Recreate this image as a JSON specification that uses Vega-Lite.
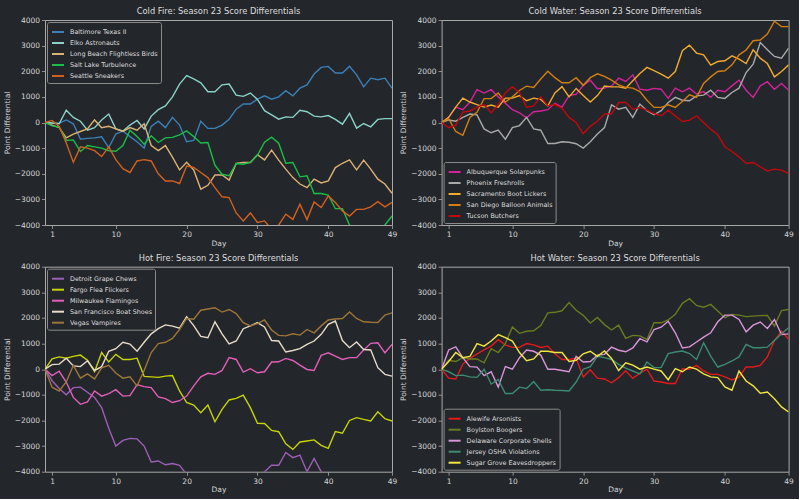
{
"$schema": "https://vega.github.io/schema/vega-lite/v6.json",
"background": "#23262b",
"padding": {"left": 2, "top": 6, "right": 5, "bottom": 5},
"config": {
  "font": "DejaVu Sans",
  "view": {"stroke": "#a8a8a8", "strokeWidth": 1},
  "axis": {"domain": false, "grid": false, "tickColor": "#a8a8a8", "tickSize": 3.5, "tickWidth": 0.8, "labelColor": "#d6d6d6", "labelFontSize": 7.5, "titleColor": "#d6d6d6", "titleFontSize": 7.5, "titleFontWeight": "normal", "labelPadding": 2, "labelFlush": false, "labelOverlap": false, "titlePadding": 3},
  "axisX": {"titlePadding": 1},
  "title": {"fontSize": 8.3, "fontWeight": "normal", "color": "#dedede", "offset": 0.5, "frame": "group", "font": "DejaVu Sans"},
  "legend": {"fillColor": "#23262b", "strokeColor": "#8a8a8a", "cornerRadius": 2, "padding": 3, "offset": 2, "labelColor": "#dddddd", "labelFontSize": 6.4, "symbolType": "stroke", "symbolStrokeWidth": 2, "symbolSize": 144, "symbolOffset": 1, "labelOffset": 5, "rowPadding": -2.5, "labelFont": "DejaVu Sans"}
},
"datasets": {
"cf": [
{"team":"Baltimore Texas II","day":0,"diff":0},{"team":"Baltimore Texas II","day":1,"diff":-20},{"team":"Baltimore Texas II","day":2,"diff":-30},{"team":"Baltimore Texas II","day":3,"diff":100},{"team":"Baltimore Texas II","day":4,"diff":-50},{"team":"Baltimore Texas II","day":5,"diff":-650},{"team":"Baltimore Texas II","day":6,"diff":-620},{"team":"Baltimore Texas II","day":7,"diff":-600},{"team":"Baltimore Texas II","day":8,"diff":-560},{"team":"Baltimore Texas II","day":9,"diff":-980},
{"team":"Baltimore Texas II","day":10,"diff":-450},{"team":"Baltimore Texas II","day":11,"diff":-330},{"team":"Baltimore Texas II","day":12,"diff":-550},{"team":"Baltimore Texas II","day":13,"diff":-750},{"team":"Baltimore Texas II","day":14,"diff":-1000},{"team":"Baltimore Texas II","day":15,"diff":-150},{"team":"Baltimore Texas II","day":16,"diff":50},{"team":"Baltimore Texas II","day":17,"diff":-200},{"team":"Baltimore Texas II","day":18,"diff":200},{"team":"Baltimore Texas II","day":19,"diff":-100},
{"team":"Baltimore Texas II","day":20,"diff":-750},{"team":"Baltimore Texas II","day":21,"diff":-700},{"team":"Baltimore Texas II","day":22,"diff":50},{"team":"Baltimore Texas II","day":23,"diff":-230},{"team":"Baltimore Texas II","day":24,"diff":-230},{"team":"Baltimore Texas II","day":25,"diff":-100},{"team":"Baltimore Texas II","day":26,"diff":130},{"team":"Baltimore Texas II","day":27,"diff":520},{"team":"Baltimore Texas II","day":28,"diff":720},{"team":"Baltimore Texas II","day":29,"diff":720},
{"team":"Baltimore Texas II","day":30,"diff":910},{"team":"Baltimore Texas II","day":31,"diff":1040},{"team":"Baltimore Texas II","day":32,"diff":910},{"team":"Baltimore Texas II","day":33,"diff":1000},{"team":"Baltimore Texas II","day":34,"diff":1240},{"team":"Baltimore Texas II","day":35,"diff":1040},{"team":"Baltimore Texas II","day":36,"diff":1340},{"team":"Baltimore Texas II","day":37,"diff":1470},{"team":"Baltimore Texas II","day":38,"diff":1890},{"team":"Baltimore Texas II","day":39,"diff":2150},
{"team":"Baltimore Texas II","day":40,"diff":2190},{"team":"Baltimore Texas II","day":41,"diff":1930},{"team":"Baltimore Texas II","day":42,"diff":1930},{"team":"Baltimore Texas II","day":43,"diff":2190},{"team":"Baltimore Texas II","day":44,"diff":1860},{"team":"Baltimore Texas II","day":45,"diff":1390},{"team":"Baltimore Texas II","day":46,"diff":1730},{"team":"Baltimore Texas II","day":47,"diff":1670},{"team":"Baltimore Texas II","day":48,"diff":1730},{"team":"Baltimore Texas II","day":49,"diff":1340},
{"team":"Elko Astronauts","day":0,"diff":0},{"team":"Elko Astronauts","day":1,"diff":-20},{"team":"Elko Astronauts","day":2,"diff":-50},{"team":"Elko Astronauts","day":3,"diff":480},{"team":"Elko Astronauts","day":4,"diff":200},{"team":"Elko Astronauts","day":5,"diff":50},{"team":"Elko Astronauts","day":6,"diff":-300},{"team":"Elko Astronauts","day":7,"diff":-200},{"team":"Elko Astronauts","day":8,"diff":100},{"team":"Elko Astronauts","day":9,"diff":330},
{"team":"Elko Astronauts","day":10,"diff":-250},{"team":"Elko Astronauts","day":11,"diff":-330},{"team":"Elko Astronauts","day":12,"diff":-100},{"team":"Elko Astronauts","day":13,"diff":80},{"team":"Elko Astronauts","day":14,"diff":-250},{"team":"Elko Astronauts","day":15,"diff":250},{"team":"Elko Astronauts","day":16,"diff":500},{"team":"Elko Astronauts","day":17,"diff":650},{"team":"Elko Astronauts","day":18,"diff":1000},{"team":"Elko Astronauts","day":19,"diff":1500},
{"team":"Elko Astronauts","day":20,"diff":1830},{"team":"Elko Astronauts","day":21,"diff":1700},{"team":"Elko Astronauts","day":22,"diff":1550},{"team":"Elko Astronauts","day":23,"diff":1200},{"team":"Elko Astronauts","day":24,"diff":1200},{"team":"Elko Astronauts","day":25,"diff":1470},{"team":"Elko Astronauts","day":26,"diff":1500},{"team":"Elko Astronauts","day":27,"diff":1070},{"team":"Elko Astronauts","day":28,"diff":1020},{"team":"Elko Astronauts","day":29,"diff":1150},
{"team":"Elko Astronauts","day":30,"diff":900},{"team":"Elko Astronauts","day":31,"diff":460},{"team":"Elko Astronauts","day":32,"diff":300},{"team":"Elko Astronauts","day":33,"diff":130},{"team":"Elko Astronauts","day":34,"diff":220},{"team":"Elko Astronauts","day":35,"diff":200},{"team":"Elko Astronauts","day":36,"diff":480},{"team":"Elko Astronauts","day":37,"diff":420},{"team":"Elko Astronauts","day":38,"diff":250},{"team":"Elko Astronauts","day":39,"diff":220},
{"team":"Elko Astronauts","day":40,"diff":270},{"team":"Elko Astronauts","day":41,"diff":120},{"team":"Elko Astronauts","day":42,"diff":-65},{"team":"Elko Astronauts","day":43,"diff":350},{"team":"Elko Astronauts","day":44,"diff":-220},{"team":"Elko Astronauts","day":45,"diff":-40},{"team":"Elko Astronauts","day":46,"diff":-170},{"team":"Elko Astronauts","day":47,"diff":120},{"team":"Elko Astronauts","day":48,"diff":150},{"team":"Elko Astronauts","day":49,"diff":150},
{"team":"Long Beach Flightless Birds","day":0,"diff":0},{"team":"Long Beach Flightless Birds","day":1,"diff":-100},{"team":"Long Beach Flightless Birds","day":2,"diff":-200},{"team":"Long Beach Flightless Birds","day":3,"diff":-600},{"team":"Long Beach Flightless Birds","day":4,"diff":-450},{"team":"Long Beach Flightless Birds","day":5,"diff":-350},{"team":"Long Beach Flightless Birds","day":6,"diff":-250},{"team":"Long Beach Flightless Birds","day":7,"diff":100},{"team":"Long Beach Flightless Birds","day":8,"diff":-200},{"team":"Long Beach Flightless Birds","day":9,"diff":-150},
{"team":"Long Beach Flightless Birds","day":10,"diff":-250},{"team":"Long Beach Flightless Birds","day":11,"diff":-350},{"team":"Long Beach Flightless Birds","day":12,"diff":-200},{"team":"Long Beach Flightless Birds","day":13,"diff":-300},{"team":"Long Beach Flightless Birds","day":14,"diff":-50},{"team":"Long Beach Flightless Birds","day":15,"diff":-900},{"team":"Long Beach Flightless Birds","day":16,"diff":-1100},{"team":"Long Beach Flightless Birds","day":17,"diff":-900},{"team":"Long Beach Flightless Birds","day":18,"diff":-1350},{"team":"Long Beach Flightless Birds","day":19,"diff":-1850},
{"team":"Long Beach Flightless Birds","day":20,"diff":-1550},{"team":"Long Beach Flightless Birds","day":21,"diff":-1850},{"team":"Long Beach Flightless Birds","day":22,"diff":-2600},{"team":"Long Beach Flightless Birds","day":23,"diff":-2450},{"team":"Long Beach Flightless Birds","day":24,"diff":-2050},{"team":"Long Beach Flightless Birds","day":25,"diff":-2050},{"team":"Long Beach Flightless Birds","day":26,"diff":-2250},{"team":"Long Beach Flightless Birds","day":27,"diff":-1600},{"team":"Long Beach Flightless Birds","day":28,"diff":-1560},{"team":"Long Beach Flightless Birds","day":29,"diff":-1560},
{"team":"Long Beach Flightless Birds","day":30,"diff":-1260},{"team":"Long Beach Flightless Birds","day":31,"diff":-1460},{"team":"Long Beach Flightless Birds","day":32,"diff":-1080},{"team":"Long Beach Flightless Birds","day":33,"diff":-1470},{"team":"Long Beach Flightless Birds","day":34,"diff":-1820},{"team":"Long Beach Flightless Birds","day":35,"diff":-2150},{"team":"Long Beach Flightless Birds","day":36,"diff":-2400},{"team":"Long Beach Flightless Birds","day":37,"diff":-2540},{"team":"Long Beach Flightless Birds","day":38,"diff":-2210},{"team":"Long Beach Flightless Birds","day":39,"diff":-2360},
{"team":"Long Beach Flightless Birds","day":40,"diff":-2280},{"team":"Long Beach Flightless Birds","day":41,"diff":-1760},{"team":"Long Beach Flightless Birds","day":42,"diff":-1590},{"team":"Long Beach Flightless Birds","day":43,"diff":-1460},{"team":"Long Beach Flightless Birds","day":44,"diff":-1850},{"team":"Long Beach Flightless Birds","day":45,"diff":-1470},{"team":"Long Beach Flightless Birds","day":46,"diff":-1820},{"team":"Long Beach Flightless Birds","day":47,"diff":-2210},{"team":"Long Beach Flightless Birds","day":48,"diff":-2400},{"team":"Long Beach Flightless Birds","day":49,"diff":-2760},
{"team":"Salt Lake Turbulence","day":0,"diff":0},{"team":"Salt Lake Turbulence","day":1,"diff":-130},{"team":"Salt Lake Turbulence","day":2,"diff":-180},{"team":"Salt Lake Turbulence","day":3,"diff":-700},{"team":"Salt Lake Turbulence","day":4,"diff":-680},{"team":"Salt Lake Turbulence","day":5,"diff":-1130},{"team":"Salt Lake Turbulence","day":6,"diff":-900},{"team":"Salt Lake Turbulence","day":7,"diff":-950},{"team":"Salt Lake Turbulence","day":8,"diff":-1000},{"team":"Salt Lake Turbulence","day":9,"diff":-1100},
{"team":"Salt Lake Turbulence","day":10,"diff":-1120},{"team":"Salt Lake Turbulence","day":11,"diff":-900},{"team":"Salt Lake Turbulence","day":12,"diff":-300},{"team":"Salt Lake Turbulence","day":13,"diff":-550},{"team":"Salt Lake Turbulence","day":14,"diff":-850},{"team":"Salt Lake Turbulence","day":15,"diff":-520},{"team":"Salt Lake Turbulence","day":16,"diff":-780},{"team":"Salt Lake Turbulence","day":17,"diff":-600},{"team":"Salt Lake Turbulence","day":18,"diff":-580},{"team":"Salt Lake Turbulence","day":19,"diff":-480},
{"team":"Salt Lake Turbulence","day":20,"diff":-330},{"team":"Salt Lake Turbulence","day":21,"diff":-550},{"team":"Salt Lake Turbulence","day":22,"diff":-800},{"team":"Salt Lake Turbulence","day":23,"diff":-780},{"team":"Salt Lake Turbulence","day":24,"diff":-1670},{"team":"Salt Lake Turbulence","day":25,"diff":-2020},{"team":"Salt Lake Turbulence","day":26,"diff":-2080},{"team":"Salt Lake Turbulence","day":27,"diff":-1600},{"team":"Salt Lake Turbulence","day":28,"diff":-1630},{"team":"Salt Lake Turbulence","day":29,"diff":-1560},
{"team":"Salt Lake Turbulence","day":30,"diff":-1280},{"team":"Salt Lake Turbulence","day":31,"diff":-770},{"team":"Salt Lake Turbulence","day":32,"diff":-570},{"team":"Salt Lake Turbulence","day":33,"diff":-810},{"team":"Salt Lake Turbulence","day":34,"diff":-1590},{"team":"Salt Lake Turbulence","day":35,"diff":-1560},{"team":"Salt Lake Turbulence","day":36,"diff":-2120},{"team":"Salt Lake Turbulence","day":37,"diff":-2080},{"team":"Salt Lake Turbulence","day":38,"diff":-2770},{"team":"Salt Lake Turbulence","day":39,"diff":-2770},
{"team":"Salt Lake Turbulence","day":40,"diff":-2830},{"team":"Salt Lake Turbulence","day":41,"diff":-3360},{"team":"Salt Lake Turbulence","day":42,"diff":-3360},{"team":"Salt Lake Turbulence","day":43,"diff":-4000},{"team":"Salt Lake Turbulence","day":44,"diff":-4200},{"team":"Salt Lake Turbulence","day":45,"diff":-4300},{"team":"Salt Lake Turbulence","day":46,"diff":-4300},{"team":"Salt Lake Turbulence","day":47,"diff":-4200},{"team":"Salt Lake Turbulence","day":48,"diff":-4000},{"team":"Salt Lake Turbulence","day":49,"diff":-3650},
{"team":"Seattle Sneakers","day":0,"diff":0},{"team":"Seattle Sneakers","day":1,"diff":80},{"team":"Seattle Sneakers","day":2,"diff":-150},{"team":"Seattle Sneakers","day":3,"diff":-800},{"team":"Seattle Sneakers","day":4,"diff":-1550},{"team":"Seattle Sneakers","day":5,"diff":-950},{"team":"Seattle Sneakers","day":6,"diff":-1000},{"team":"Seattle Sneakers","day":7,"diff":-1100},{"team":"Seattle Sneakers","day":8,"diff":-1330},{"team":"Seattle Sneakers","day":9,"diff":-950},
{"team":"Seattle Sneakers","day":10,"diff":-1450},{"team":"Seattle Sneakers","day":11,"diff":-1800},{"team":"Seattle Sneakers","day":12,"diff":-1950},{"team":"Seattle Sneakers","day":13,"diff":-1500},{"team":"Seattle Sneakers","day":14,"diff":-1450},{"team":"Seattle Sneakers","day":15,"diff":-1500},{"team":"Seattle Sneakers","day":16,"diff":-2000},{"team":"Seattle Sneakers","day":17,"diff":-2280},{"team":"Seattle Sneakers","day":18,"diff":-2280},{"team":"Seattle Sneakers","day":19,"diff":-2380},
{"team":"Seattle Sneakers","day":20,"diff":-1700},{"team":"Seattle Sneakers","day":21,"diff":-1750},{"team":"Seattle Sneakers","day":22,"diff":-1950},{"team":"Seattle Sneakers","day":23,"diff":-2150},{"team":"Seattle Sneakers","day":24,"diff":-2540},{"team":"Seattle Sneakers","day":25,"diff":-2900},{"team":"Seattle Sneakers","day":26,"diff":-2930},{"team":"Seattle Sneakers","day":27,"diff":-3530},{"team":"Seattle Sneakers","day":28,"diff":-3840},{"team":"Seattle Sneakers","day":29,"diff":-3530},
{"team":"Seattle Sneakers","day":30,"diff":-3900},{"team":"Seattle Sneakers","day":31,"diff":-3840},{"team":"Seattle Sneakers","day":32,"diff":-4170},{"team":"Seattle Sneakers","day":33,"diff":-4000},{"team":"Seattle Sneakers","day":34,"diff":-3580},{"team":"Seattle Sneakers","day":35,"diff":-3780},{"team":"Seattle Sneakers","day":36,"diff":-3190},{"team":"Seattle Sneakers","day":37,"diff":-3790},{"team":"Seattle Sneakers","day":38,"diff":-3100},{"team":"Seattle Sneakers","day":39,"diff":-3320},
{"team":"Seattle Sneakers","day":40,"diff":-2860},{"team":"Seattle Sneakers","day":41,"diff":-3120},{"team":"Seattle Sneakers","day":42,"diff":-3450},{"team":"Seattle Sneakers","day":43,"diff":-3650},{"team":"Seattle Sneakers","day":44,"diff":-3390},{"team":"Seattle Sneakers","day":45,"diff":-3390},{"team":"Seattle Sneakers","day":46,"diff":-3290},{"team":"Seattle Sneakers","day":47,"diff":-3090},{"team":"Seattle Sneakers","day":48,"diff":-3290},{"team":"Seattle Sneakers","day":49,"diff":-3120}
],
"cw": [
{"team":"Albuquerque Solarpunks","day":0,"diff":0},{"team":"Albuquerque Solarpunks","day":1,"diff":200},{"team":"Albuquerque Solarpunks","day":2,"diff":600},{"team":"Albuquerque Solarpunks","day":3,"diff":500},{"team":"Albuquerque Solarpunks","day":4,"diff":800},{"team":"Albuquerque Solarpunks","day":5,"diff":1280},{"team":"Albuquerque Solarpunks","day":6,"diff":1150},{"team":"Albuquerque Solarpunks","day":7,"diff":1280},{"team":"Albuquerque Solarpunks","day":8,"diff":1000},{"team":"Albuquerque Solarpunks","day":9,"diff":750},
{"team":"Albuquerque Solarpunks","day":10,"diff":500},{"team":"Albuquerque Solarpunks","day":11,"diff":380},{"team":"Albuquerque Solarpunks","day":12,"diff":180},{"team":"Albuquerque Solarpunks","day":13,"diff":420},{"team":"Albuquerque Solarpunks","day":14,"diff":450},{"team":"Albuquerque Solarpunks","day":15,"diff":500},{"team":"Albuquerque Solarpunks","day":16,"diff":750},{"team":"Albuquerque Solarpunks","day":17,"diff":600},{"team":"Albuquerque Solarpunks","day":18,"diff":1050},{"team":"Albuquerque Solarpunks","day":19,"diff":1100},
{"team":"Albuquerque Solarpunks","day":20,"diff":1450},{"team":"Albuquerque Solarpunks","day":21,"diff":1650},{"team":"Albuquerque Solarpunks","day":22,"diff":1320},{"team":"Albuquerque Solarpunks","day":23,"diff":1340},{"team":"Albuquerque Solarpunks","day":24,"diff":1430},{"team":"Albuquerque Solarpunks","day":25,"diff":1730},{"team":"Albuquerque Solarpunks","day":26,"diff":1600},{"team":"Albuquerque Solarpunks","day":27,"diff":1860},{"team":"Albuquerque Solarpunks","day":28,"diff":1300},{"team":"Albuquerque Solarpunks","day":29,"diff":1260},
{"team":"Albuquerque Solarpunks","day":30,"diff":1330},{"team":"Albuquerque Solarpunks","day":31,"diff":1300},{"team":"Albuquerque Solarpunks","day":32,"diff":940},{"team":"Albuquerque Solarpunks","day":33,"diff":1340},{"team":"Albuquerque Solarpunks","day":34,"diff":1200},{"team":"Albuquerque Solarpunks","day":35,"diff":1340},{"team":"Albuquerque Solarpunks","day":36,"diff":1110},{"team":"Albuquerque Solarpunks","day":37,"diff":1210},{"team":"Albuquerque Solarpunks","day":38,"diff":980},{"team":"Albuquerque Solarpunks","day":39,"diff":1260},
{"team":"Albuquerque Solarpunks","day":40,"diff":1200},{"team":"Albuquerque Solarpunks","day":41,"diff":1430},{"team":"Albuquerque Solarpunks","day":42,"diff":1650},{"team":"Albuquerque Solarpunks","day":43,"diff":1260},{"team":"Albuquerque Solarpunks","day":44,"diff":980},{"team":"Albuquerque Solarpunks","day":45,"diff":1430},{"team":"Albuquerque Solarpunks","day":46,"diff":1590},{"team":"Albuquerque Solarpunks","day":47,"diff":1300},{"team":"Albuquerque Solarpunks","day":48,"diff":1520},{"team":"Albuquerque Solarpunks","day":49,"diff":1260},
{"team":"Phoenix Freshrolls","day":0,"diff":0},{"team":"Phoenix Freshrolls","day":1,"diff":100},{"team":"Phoenix Freshrolls","day":2,"diff":50},{"team":"Phoenix Freshrolls","day":3,"diff":200},{"team":"Phoenix Freshrolls","day":4,"diff":330},{"team":"Phoenix Freshrolls","day":5,"diff":300},{"team":"Phoenix Freshrolls","day":6,"diff":-250},{"team":"Phoenix Freshrolls","day":7,"diff":-400},{"team":"Phoenix Freshrolls","day":8,"diff":-300},{"team":"Phoenix Freshrolls","day":9,"diff":-650},
{"team":"Phoenix Freshrolls","day":10,"diff":-200},{"team":"Phoenix Freshrolls","day":11,"diff":-120},{"team":"Phoenix Freshrolls","day":12,"diff":200},{"team":"Phoenix Freshrolls","day":13,"diff":-250},{"team":"Phoenix Freshrolls","day":14,"diff":-300},{"team":"Phoenix Freshrolls","day":15,"diff":-820},{"team":"Phoenix Freshrolls","day":16,"diff":-820},{"team":"Phoenix Freshrolls","day":17,"diff":-750},{"team":"Phoenix Freshrolls","day":18,"diff":-770},{"team":"Phoenix Freshrolls","day":19,"diff":-830},
{"team":"Phoenix Freshrolls","day":20,"diff":-1000},{"team":"Phoenix Freshrolls","day":21,"diff":-750},{"team":"Phoenix Freshrolls","day":22,"diff":-450},{"team":"Phoenix Freshrolls","day":23,"diff":-200},{"team":"Phoenix Freshrolls","day":24,"diff":690},{"team":"Phoenix Freshrolls","day":25,"diff":520},{"team":"Phoenix Freshrolls","day":26,"diff":590},{"team":"Phoenix Freshrolls","day":27,"diff":200},{"team":"Phoenix Freshrolls","day":28,"diff":720},{"team":"Phoenix Freshrolls","day":29,"diff":460},
{"team":"Phoenix Freshrolls","day":30,"diff":300},{"team":"Phoenix Freshrolls","day":31,"diff":460},{"team":"Phoenix Freshrolls","day":32,"diff":780},{"team":"Phoenix Freshrolls","day":33,"diff":980},{"team":"Phoenix Freshrolls","day":34,"diff":870},{"team":"Phoenix Freshrolls","day":35,"diff":850},{"team":"Phoenix Freshrolls","day":36,"diff":1040},{"team":"Phoenix Freshrolls","day":37,"diff":1070},{"team":"Phoenix Freshrolls","day":38,"diff":1260},{"team":"Phoenix Freshrolls","day":39,"diff":980},
{"team":"Phoenix Freshrolls","day":40,"diff":940},{"team":"Phoenix Freshrolls","day":41,"diff":1170},{"team":"Phoenix Freshrolls","day":42,"diff":1340},{"team":"Phoenix Freshrolls","day":43,"diff":1950},{"team":"Phoenix Freshrolls","day":44,"diff":2280},{"team":"Phoenix Freshrolls","day":45,"diff":3120},{"team":"Phoenix Freshrolls","day":46,"diff":2840},{"team":"Phoenix Freshrolls","day":47,"diff":2580},{"team":"Phoenix Freshrolls","day":48,"diff":2510},{"team":"Phoenix Freshrolls","day":49,"diff":2900},
{"team":"Sacramento Boot Lickers","day":0,"diff":0},{"team":"Sacramento Boot Lickers","day":1,"diff":200},{"team":"Sacramento Boot Lickers","day":2,"diff":600},{"team":"Sacramento Boot Lickers","day":3,"diff":950},{"team":"Sacramento Boot Lickers","day":4,"diff":800},{"team":"Sacramento Boot Lickers","day":5,"diff":700},{"team":"Sacramento Boot Lickers","day":6,"diff":600},{"team":"Sacramento Boot Lickers","day":7,"diff":680},{"team":"Sacramento Boot Lickers","day":8,"diff":600},{"team":"Sacramento Boot Lickers","day":9,"diff":950},
{"team":"Sacramento Boot Lickers","day":10,"diff":950},{"team":"Sacramento Boot Lickers","day":11,"diff":1050},{"team":"Sacramento Boot Lickers","day":12,"diff":850},{"team":"Sacramento Boot Lickers","day":13,"diff":950},{"team":"Sacramento Boot Lickers","day":14,"diff":900},{"team":"Sacramento Boot Lickers","day":15,"diff":650},{"team":"Sacramento Boot Lickers","day":16,"diff":1150},{"team":"Sacramento Boot Lickers","day":17,"diff":1400},{"team":"Sacramento Boot Lickers","day":18,"diff":1000},{"team":"Sacramento Boot Lickers","day":19,"diff":1330},
{"team":"Sacramento Boot Lickers","day":20,"diff":1050},{"team":"Sacramento Boot Lickers","day":21,"diff":800},{"team":"Sacramento Boot Lickers","day":22,"diff":1050},{"team":"Sacramento Boot Lickers","day":23,"diff":1420},{"team":"Sacramento Boot Lickers","day":24,"diff":1390},{"team":"Sacramento Boot Lickers","day":25,"diff":1390},{"team":"Sacramento Boot Lickers","day":26,"diff":1340},{"team":"Sacramento Boot Lickers","day":27,"diff":1630},{"team":"Sacramento Boot Lickers","day":28,"diff":1910},{"team":"Sacramento Boot Lickers","day":29,"diff":2150},
{"team":"Sacramento Boot Lickers","day":30,"diff":2020},{"team":"Sacramento Boot Lickers","day":31,"diff":1890},{"team":"Sacramento Boot Lickers","day":32,"diff":1730},{"team":"Sacramento Boot Lickers","day":33,"diff":1990},{"team":"Sacramento Boot Lickers","day":34,"diff":2800},{"team":"Sacramento Boot Lickers","day":35,"diff":3020},{"team":"Sacramento Boot Lickers","day":36,"diff":2710},{"team":"Sacramento Boot Lickers","day":37,"diff":2640},{"team":"Sacramento Boot Lickers","day":38,"diff":2240},{"team":"Sacramento Boot Lickers","day":39,"diff":2380},
{"team":"Sacramento Boot Lickers","day":40,"diff":2410},{"team":"Sacramento Boot Lickers","day":41,"diff":2600},{"team":"Sacramento Boot Lickers","day":42,"diff":2470},{"team":"Sacramento Boot Lickers","day":43,"diff":2300},{"team":"Sacramento Boot Lickers","day":44,"diff":2840},{"team":"Sacramento Boot Lickers","day":45,"diff":2510},{"team":"Sacramento Boot Lickers","day":46,"diff":2300},{"team":"Sacramento Boot Lickers","day":47,"diff":1780},{"team":"Sacramento Boot Lickers","day":48,"diff":1990},{"team":"Sacramento Boot Lickers","day":49,"diff":2250},
{"team":"San Diego Balloon Animals","day":0,"diff":0},{"team":"San Diego Balloon Animals","day":1,"diff":150},{"team":"San Diego Balloon Animals","day":2,"diff":-350},{"team":"San Diego Balloon Animals","day":3,"diff":-500},{"team":"San Diego Balloon Animals","day":4,"diff":200},{"team":"San Diego Balloon Animals","day":5,"diff":400},{"team":"San Diego Balloon Animals","day":6,"diff":930},{"team":"San Diego Balloon Animals","day":7,"diff":930},{"team":"San Diego Balloon Animals","day":8,"diff":1150},{"team":"San Diego Balloon Animals","day":9,"diff":800},
{"team":"San Diego Balloon Animals","day":10,"diff":1000},{"team":"San Diego Balloon Animals","day":11,"diff":1250},{"team":"San Diego Balloon Animals","day":12,"diff":1420},{"team":"San Diego Balloon Animals","day":13,"diff":1370},{"team":"San Diego Balloon Animals","day":14,"diff":1700},{"team":"San Diego Balloon Animals","day":15,"diff":2000},{"team":"San Diego Balloon Animals","day":16,"diff":1750},{"team":"San Diego Balloon Animals","day":17,"diff":1550},{"team":"San Diego Balloon Animals","day":18,"diff":1550},{"team":"San Diego Balloon Animals","day":19,"diff":1750},
{"team":"San Diego Balloon Animals","day":20,"diff":1450},{"team":"San Diego Balloon Animals","day":21,"diff":1750},{"team":"San Diego Balloon Animals","day":22,"diff":1900},{"team":"San Diego Balloon Animals","day":23,"diff":1800},{"team":"San Diego Balloon Animals","day":24,"diff":1650},{"team":"San Diego Balloon Animals","day":25,"diff":1470},{"team":"San Diego Balloon Animals","day":26,"diff":1370},{"team":"San Diego Balloon Animals","day":27,"diff":1340},{"team":"San Diego Balloon Animals","day":28,"diff":1210},{"team":"San Diego Balloon Animals","day":29,"diff":870},
{"team":"San Diego Balloon Animals","day":30,"diff":590},{"team":"San Diego Balloon Animals","day":31,"diff":590},{"team":"San Diego Balloon Animals","day":32,"diff":690},{"team":"San Diego Balloon Animals","day":33,"diff":590},{"team":"San Diego Balloon Animals","day":34,"diff":820},{"team":"San Diego Balloon Animals","day":35,"diff":1080},{"team":"San Diego Balloon Animals","day":36,"diff":980},{"team":"San Diego Balloon Animals","day":37,"diff":1520},{"team":"San Diego Balloon Animals","day":38,"diff":1780},{"team":"San Diego Balloon Animals","day":39,"diff":1990},
{"team":"San Diego Balloon Animals","day":40,"diff":2020},{"team":"San Diego Balloon Animals","day":41,"diff":2250},{"team":"San Diego Balloon Animals","day":42,"diff":2640},{"team":"San Diego Balloon Animals","day":43,"diff":2830},{"team":"San Diego Balloon Animals","day":44,"diff":3190},{"team":"San Diego Balloon Animals","day":45,"diff":3220},{"team":"San Diego Balloon Animals","day":46,"diff":3450},{"team":"San Diego Balloon Animals","day":47,"diff":3950},{"team":"San Diego Balloon Animals","day":48,"diff":3740},{"team":"San Diego Balloon Animals","day":49,"diff":3740},
{"team":"Tucson Butchers","day":0,"diff":0},{"team":"Tucson Butchers","day":1,"diff":-200},{"team":"Tucson Butchers","day":2,"diff":-100},{"team":"Tucson Butchers","day":3,"diff":400},{"team":"Tucson Butchers","day":4,"diff":450},{"team":"Tucson Butchers","day":5,"diff":600},{"team":"Tucson Butchers","day":6,"diff":700},{"team":"Tucson Butchers","day":7,"diff":380},{"team":"Tucson Butchers","day":8,"diff":700},{"team":"Tucson Butchers","day":9,"diff":1150},
{"team":"Tucson Butchers","day":10,"diff":1400},{"team":"Tucson Butchers","day":11,"diff":1150},{"team":"Tucson Butchers","day":12,"diff":600},{"team":"Tucson Butchers","day":13,"diff":650},{"team":"Tucson Butchers","day":14,"diff":1000},{"team":"Tucson Butchers","day":15,"diff":650},{"team":"Tucson Butchers","day":16,"diff":700},{"team":"Tucson Butchers","day":17,"diff":550},{"team":"Tucson Butchers","day":18,"diff":200},{"team":"Tucson Butchers","day":19,"diff":0},
{"team":"Tucson Butchers","day":20,"diff":-430},{"team":"Tucson Butchers","day":21,"diff":-150},{"team":"Tucson Butchers","day":22,"diff":50},{"team":"Tucson Butchers","day":23,"diff":330},{"team":"Tucson Butchers","day":24,"diff":330},{"team":"Tucson Butchers","day":25,"diff":780},{"team":"Tucson Butchers","day":26,"diff":780},{"team":"Tucson Butchers","day":27,"diff":520},{"team":"Tucson Butchers","day":28,"diff":590},{"team":"Tucson Butchers","day":29,"diff":480},
{"team":"Tucson Butchers","day":30,"diff":350},{"team":"Tucson Butchers","day":31,"diff":260},{"team":"Tucson Butchers","day":32,"diff":480},{"team":"Tucson Butchers","day":33,"diff":260},{"team":"Tucson Butchers","day":34,"diff":40},{"team":"Tucson Butchers","day":35,"diff":90},{"team":"Tucson Butchers","day":36,"diff":260},{"team":"Tucson Butchers","day":37,"diff":0},{"team":"Tucson Butchers","day":38,"diff":-260},{"team":"Tucson Butchers","day":39,"diff":-480},
{"team":"Tucson Butchers","day":40,"diff":-950},{"team":"Tucson Butchers","day":41,"diff":-1130},{"team":"Tucson Butchers","day":42,"diff":-1340},{"team":"Tucson Butchers","day":43,"diff":-1600},{"team":"Tucson Butchers","day":44,"diff":-1560},{"team":"Tucson Butchers","day":45,"diff":-1730},{"team":"Tucson Butchers","day":46,"diff":-1890},{"team":"Tucson Butchers","day":47,"diff":-1820},{"team":"Tucson Butchers","day":48,"diff":-1860},{"team":"Tucson Butchers","day":49,"diff":-1990}
],
"hf": [
{"team":"Detroit Grape Chews","day":0,"diff":0},{"team":"Detroit Grape Chews","day":1,"diff":-450},{"team":"Detroit Grape Chews","day":2,"diff":-750},{"team":"Detroit Grape Chews","day":3,"diff":-1000},{"team":"Detroit Grape Chews","day":4,"diff":-720},{"team":"Detroit Grape Chews","day":5,"diff":-700},{"team":"Detroit Grape Chews","day":6,"diff":-900},{"team":"Detroit Grape Chews","day":7,"diff":-1100},{"team":"Detroit Grape Chews","day":8,"diff":-1500},{"team":"Detroit Grape Chews","day":9,"diff":-2300},
{"team":"Detroit Grape Chews","day":10,"diff":-3000},{"team":"Detroit Grape Chews","day":11,"diff":-2780},{"team":"Detroit Grape Chews","day":12,"diff":-2700},{"team":"Detroit Grape Chews","day":13,"diff":-2720},{"team":"Detroit Grape Chews","day":14,"diff":-3000},{"team":"Detroit Grape Chews","day":15,"diff":-3620},{"team":"Detroit Grape Chews","day":16,"diff":-3580},{"team":"Detroit Grape Chews","day":17,"diff":-3730},{"team":"Detroit Grape Chews","day":18,"diff":-3680},{"team":"Detroit Grape Chews","day":19,"diff":-3750},
{"team":"Detroit Grape Chews","day":20,"diff":-4100},{"team":"Detroit Grape Chews","day":21,"diff":-4400},{"team":"Detroit Grape Chews","day":22,"diff":-4600},{"team":"Detroit Grape Chews","day":23,"diff":-4700},{"team":"Detroit Grape Chews","day":24,"diff":-4800},{"team":"Detroit Grape Chews","day":25,"diff":-4800},{"team":"Detroit Grape Chews","day":26,"diff":-4900},{"team":"Detroit Grape Chews","day":27,"diff":-4900},{"team":"Detroit Grape Chews","day":28,"diff":-4700},{"team":"Detroit Grape Chews","day":29,"diff":-4500},
{"team":"Detroit Grape Chews","day":30,"diff":-4200},{"team":"Detroit Grape Chews","day":31,"diff":-4000},{"team":"Detroit Grape Chews","day":32,"diff":-3750},{"team":"Detroit Grape Chews","day":33,"diff":-3750},{"team":"Detroit Grape Chews","day":34,"diff":-3250},{"team":"Detroit Grape Chews","day":35,"diff":-3450},{"team":"Detroit Grape Chews","day":36,"diff":-3350},{"team":"Detroit Grape Chews","day":37,"diff":-4000},{"team":"Detroit Grape Chews","day":38,"diff":-3480},{"team":"Detroit Grape Chews","day":39,"diff":-4000},
{"team":"Detroit Grape Chews","day":40,"diff":-4300},{"team":"Detroit Grape Chews","day":41,"diff":-4500},{"team":"Detroit Grape Chews","day":42,"diff":-4700},{"team":"Detroit Grape Chews","day":43,"diff":-4800},{"team":"Detroit Grape Chews","day":44,"diff":-5000},{"team":"Detroit Grape Chews","day":45,"diff":-5000},{"team":"Detroit Grape Chews","day":46,"diff":-5100},{"team":"Detroit Grape Chews","day":47,"diff":-5200},{"team":"Detroit Grape Chews","day":48,"diff":-5200},{"team":"Detroit Grape Chews","day":49,"diff":-5300},
{"team":"Fargo Flea Flickers","day":0,"diff":0},{"team":"Fargo Flea Flickers","day":1,"diff":400},{"team":"Fargo Flea Flickers","day":2,"diff":480},{"team":"Fargo Flea Flickers","day":3,"diff":430},{"team":"Fargo Flea Flickers","day":4,"diff":500},{"team":"Fargo Flea Flickers","day":5,"diff":550},{"team":"Fargo Flea Flickers","day":6,"diff":350},{"team":"Fargo Flea Flickers","day":7,"diff":-100},{"team":"Fargo Flea Flickers","day":8,"diff":650},{"team":"Fargo Flea Flickers","day":9,"diff":280},
{"team":"Fargo Flea Flickers","day":10,"diff":580},{"team":"Fargo Flea Flickers","day":11,"diff":380},{"team":"Fargo Flea Flickers","day":12,"diff":380},{"team":"Fargo Flea Flickers","day":13,"diff":430},{"team":"Fargo Flea Flickers","day":14,"diff":-280},{"team":"Fargo Flea Flickers","day":15,"diff":-300},{"team":"Fargo Flea Flickers","day":16,"diff":-320},{"team":"Fargo Flea Flickers","day":17,"diff":-270},{"team":"Fargo Flea Flickers","day":18,"diff":-250},{"team":"Fargo Flea Flickers","day":19,"diff":-850},
{"team":"Fargo Flea Flickers","day":20,"diff":-1300},{"team":"Fargo Flea Flickers","day":21,"diff":-1400},{"team":"Fargo Flea Flickers","day":22,"diff":-1700},{"team":"Fargo Flea Flickers","day":23,"diff":-1400},{"team":"Fargo Flea Flickers","day":24,"diff":-2050},{"team":"Fargo Flea Flickers","day":25,"diff":-1570},{"team":"Fargo Flea Flickers","day":26,"diff":-1200},{"team":"Fargo Flea Flickers","day":27,"diff":-1140},{"team":"Fargo Flea Flickers","day":28,"diff":-1010},{"team":"Fargo Flea Flickers","day":29,"diff":-1500},
{"team":"Fargo Flea Flickers","day":30,"diff":-2110},{"team":"Fargo Flea Flickers","day":31,"diff":-2120},{"team":"Fargo Flea Flickers","day":32,"diff":-2390},{"team":"Fargo Flea Flickers","day":33,"diff":-2440},{"team":"Fargo Flea Flickers","day":34,"diff":-2910},{"team":"Fargo Flea Flickers","day":35,"diff":-3130},{"team":"Fargo Flea Flickers","day":36,"diff":-2840},{"team":"Fargo Flea Flickers","day":37,"diff":-2800},{"team":"Fargo Flea Flickers","day":38,"diff":-2760},{"team":"Fargo Flea Flickers","day":39,"diff":-2970},
{"team":"Fargo Flea Flickers","day":40,"diff":-3090},{"team":"Fargo Flea Flickers","day":41,"diff":-2430},{"team":"Fargo Flea Flickers","day":42,"diff":-2500},{"team":"Fargo Flea Flickers","day":43,"diff":-2000},{"team":"Fargo Flea Flickers","day":44,"diff":-1890},{"team":"Fargo Flea Flickers","day":45,"diff":-1960},{"team":"Fargo Flea Flickers","day":46,"diff":-2020},{"team":"Fargo Flea Flickers","day":47,"diff":-1660},{"team":"Fargo Flea Flickers","day":48,"diff":-1930},{"team":"Fargo Flea Flickers","day":49,"diff":-2020},
{"team":"Milwaukee Flamingos","day":0,"diff":0},{"team":"Milwaukee Flamingos","day":1,"diff":-250},{"team":"Milwaukee Flamingos","day":2,"diff":-80},{"team":"Milwaukee Flamingos","day":3,"diff":-500},{"team":"Milwaukee Flamingos","day":4,"diff":-1100},{"team":"Milwaukee Flamingos","day":5,"diff":-1370},{"team":"Milwaukee Flamingos","day":6,"diff":-1280},{"team":"Milwaukee Flamingos","day":7,"diff":-850},{"team":"Milwaukee Flamingos","day":8,"diff":-1050},{"team":"Milwaukee Flamingos","day":9,"diff":-950},
{"team":"Milwaukee Flamingos","day":10,"diff":-800},{"team":"Milwaukee Flamingos","day":11,"diff":-1050},{"team":"Milwaukee Flamingos","day":12,"diff":-1030},{"team":"Milwaukee Flamingos","day":13,"diff":-600},{"team":"Milwaukee Flamingos","day":14,"diff":-680},{"team":"Milwaukee Flamingos","day":15,"diff":-720},{"team":"Milwaukee Flamingos","day":16,"diff":-1080},{"team":"Milwaukee Flamingos","day":17,"diff":-1150},{"team":"Milwaukee Flamingos","day":18,"diff":-1300},{"team":"Milwaukee Flamingos","day":19,"diff":-1230},
{"team":"Milwaukee Flamingos","day":20,"diff":-1050},{"team":"Milwaukee Flamingos","day":21,"diff":-650},{"team":"Milwaukee Flamingos","day":22,"diff":-300},{"team":"Milwaukee Flamingos","day":23,"diff":-160},{"team":"Milwaukee Flamingos","day":24,"diff":-200},{"team":"Milwaukee Flamingos","day":25,"diff":-50},{"team":"Milwaukee Flamingos","day":26,"diff":450},{"team":"Milwaukee Flamingos","day":27,"diff":380},{"team":"Milwaukee Flamingos","day":28,"diff":-110},{"team":"Milwaukee Flamingos","day":29,"diff":20},
{"team":"Milwaukee Flamingos","day":30,"diff":-140},{"team":"Milwaukee Flamingos","day":31,"diff":-100},{"team":"Milwaukee Flamingos","day":32,"diff":280},{"team":"Milwaukee Flamingos","day":33,"diff":290},{"team":"Milwaukee Flamingos","day":34,"diff":420},{"team":"Milwaukee Flamingos","day":35,"diff":340},{"team":"Milwaukee Flamingos","day":36,"diff":160},{"team":"Milwaukee Flamingos","day":37,"diff":-10},{"team":"Milwaukee Flamingos","day":38,"diff":-50},{"team":"Milwaukee Flamingos","day":39,"diff":540},
{"team":"Milwaukee Flamingos","day":40,"diff":640},{"team":"Milwaukee Flamingos","day":41,"diff":510},{"team":"Milwaukee Flamingos","day":42,"diff":380},{"team":"Milwaukee Flamingos","day":43,"diff":450},{"team":"Milwaukee Flamingos","day":44,"diff":450},{"team":"Milwaukee Flamingos","day":45,"diff":750},{"team":"Milwaukee Flamingos","day":46,"diff":1010},{"team":"Milwaukee Flamingos","day":47,"diff":1030},{"team":"Milwaukee Flamingos","day":48,"diff":640},{"team":"Milwaukee Flamingos","day":49,"diff":970},
{"team":"San Francisco Boat Shoes","day":0,"diff":0},{"team":"San Francisco Boat Shoes","day":1,"diff":180},{"team":"San Francisco Boat Shoes","day":2,"diff":200},{"team":"San Francisco Boat Shoes","day":3,"diff":430},{"team":"San Francisco Boat Shoes","day":4,"diff":130},{"team":"San Francisco Boat Shoes","day":5,"diff":100},{"team":"San Francisco Boat Shoes","day":6,"diff":330},{"team":"San Francisco Boat Shoes","day":7,"diff":-50},{"team":"San Francisco Boat Shoes","day":8,"diff":100},{"team":"San Francisco Boat Shoes","day":9,"diff":700},
{"team":"San Francisco Boat Shoes","day":10,"diff":800},{"team":"San Francisco Boat Shoes","day":11,"diff":1050},{"team":"San Francisco Boat Shoes","day":12,"diff":980},{"team":"San Francisco Boat Shoes","day":13,"diff":700},{"team":"San Francisco Boat Shoes","day":14,"diff":1050},{"team":"San Francisco Boat Shoes","day":15,"diff":1380},{"team":"San Francisco Boat Shoes","day":16,"diff":1580},{"team":"San Francisco Boat Shoes","day":17,"diff":1730},{"team":"San Francisco Boat Shoes","day":18,"diff":1680},{"team":"San Francisco Boat Shoes","day":19,"diff":1600},
{"team":"San Francisco Boat Shoes","day":20,"diff":2050},{"team":"San Francisco Boat Shoes","day":21,"diff":1700},{"team":"San Francisco Boat Shoes","day":22,"diff":1280},{"team":"San Francisco Boat Shoes","day":23,"diff":1230},{"team":"San Francisco Boat Shoes","day":24,"diff":1850},{"team":"San Francisco Boat Shoes","day":25,"diff":1380},{"team":"San Francisco Boat Shoes","day":26,"diff":990},{"team":"San Francisco Boat Shoes","day":27,"diff":1100},{"team":"San Francisco Boat Shoes","day":28,"diff":1580},{"team":"San Francisco Boat Shoes","day":29,"diff":1690},
{"team":"San Francisco Boat Shoes","day":30,"diff":1820},{"team":"San Francisco Boat Shoes","day":31,"diff":1650},{"team":"San Francisco Boat Shoes","day":32,"diff":1120},{"team":"San Francisco Boat Shoes","day":33,"diff":1100},{"team":"San Francisco Boat Shoes","day":34,"diff":670},{"team":"San Francisco Boat Shoes","day":35,"diff":730},{"team":"San Francisco Boat Shoes","day":36,"diff":800},{"team":"San Francisco Boat Shoes","day":37,"diff":970},{"team":"San Francisco Boat Shoes","day":38,"diff":1100},{"team":"San Francisco Boat Shoes","day":39,"diff":1360},
{"team":"San Francisco Boat Shoes","day":40,"diff":1750},{"team":"San Francisco Boat Shoes","day":41,"diff":1880},{"team":"San Francisco Boat Shoes","day":42,"diff":1120},{"team":"San Francisco Boat Shoes","day":43,"diff":840},{"team":"San Francisco Boat Shoes","day":44,"diff":1060},{"team":"San Francisco Boat Shoes","day":45,"diff":770},{"team":"San Francisco Boat Shoes","day":46,"diff":750},{"team":"San Francisco Boat Shoes","day":47,"diff":60},{"team":"San Francisco Boat Shoes","day":48,"diff":-200},{"team":"San Francisco Boat Shoes","day":49,"diff":-270},
{"team":"Vegas Vampires","day":0,"diff":0},{"team":"Vegas Vampires","day":1,"diff":-700},{"team":"Vegas Vampires","day":2,"diff":-850},{"team":"Vegas Vampires","day":3,"diff":-500},{"team":"Vegas Vampires","day":4,"diff":150},{"team":"Vegas Vampires","day":5,"diff":-350},{"team":"Vegas Vampires","day":6,"diff":-180},{"team":"Vegas Vampires","day":7,"diff":-380},{"team":"Vegas Vampires","day":8,"diff":50},{"team":"Vegas Vampires","day":9,"diff":150},
{"team":"Vegas Vampires","day":10,"diff":-150},{"team":"Vegas Vampires","day":11,"diff":-350},{"team":"Vegas Vampires","day":12,"diff":-300},{"team":"Vegas Vampires","day":13,"diff":-650},{"team":"Vegas Vampires","day":14,"diff":-50},{"team":"Vegas Vampires","day":15,"diff":650},{"team":"Vegas Vampires","day":16,"diff":1000},{"team":"Vegas Vampires","day":17,"diff":1050},{"team":"Vegas Vampires","day":18,"diff":1200},{"team":"Vegas Vampires","day":19,"diff":1550},
{"team":"Vegas Vampires","day":20,"diff":1980},{"team":"Vegas Vampires","day":21,"diff":1950},{"team":"Vegas Vampires","day":22,"diff":2300},{"team":"Vegas Vampires","day":23,"diff":2350},{"team":"Vegas Vampires","day":24,"diff":2400},{"team":"Vegas Vampires","day":25,"diff":2230},{"team":"Vegas Vampires","day":26,"diff":2330},{"team":"Vegas Vampires","day":27,"diff":2170},{"team":"Vegas Vampires","day":28,"diff":1820},{"team":"Vegas Vampires","day":29,"diff":1690},
{"team":"Vegas Vampires","day":30,"diff":1780},{"team":"Vegas Vampires","day":31,"diff":1920},{"team":"Vegas Vampires","day":32,"diff":1530},{"team":"Vegas Vampires","day":33,"diff":1320},{"team":"Vegas Vampires","day":34,"diff":1300},{"team":"Vegas Vampires","day":35,"diff":1380},{"team":"Vegas Vampires","day":36,"diff":1330},{"team":"Vegas Vampires","day":37,"diff":1550},{"team":"Vegas Vampires","day":38,"diff":1420},{"team":"Vegas Vampires","day":39,"diff":1690},
{"team":"Vegas Vampires","day":40,"diff":1920},{"team":"Vegas Vampires","day":41,"diff":1960},{"team":"Vegas Vampires","day":42,"diff":1980},{"team":"Vegas Vampires","day":43,"diff":2230},{"team":"Vegas Vampires","day":44,"diff":1980},{"team":"Vegas Vampires","day":45,"diff":1850},{"team":"Vegas Vampires","day":46,"diff":1830},{"team":"Vegas Vampires","day":47,"diff":1820},{"team":"Vegas Vampires","day":48,"diff":2110},{"team":"Vegas Vampires","day":49,"diff":2200}
],
"hw": [
{"team":"Alewife Arsonists","day":0,"diff":0},{"team":"Alewife Arsonists","day":1,"diff":-350},{"team":"Alewife Arsonists","day":2,"diff":-380},{"team":"Alewife Arsonists","day":3,"diff":200},{"team":"Alewife Arsonists","day":4,"diff":420},{"team":"Alewife Arsonists","day":5,"diff":600},{"team":"Alewife Arsonists","day":6,"diff":750},{"team":"Alewife Arsonists","day":7,"diff":900},{"team":"Alewife Arsonists","day":8,"diff":1150},{"team":"Alewife Arsonists","day":9,"diff":950},
{"team":"Alewife Arsonists","day":10,"diff":850},{"team":"Alewife Arsonists","day":11,"diff":850},{"team":"Alewife Arsonists","day":12,"diff":1000},{"team":"Alewife Arsonists","day":13,"diff":950},{"team":"Alewife Arsonists","day":14,"diff":850},{"team":"Alewife Arsonists","day":15,"diff":900},{"team":"Alewife Arsonists","day":16,"diff":600},{"team":"Alewife Arsonists","day":17,"diff":380},{"team":"Alewife Arsonists","day":18,"diff":380},{"team":"Alewife Arsonists","day":19,"diff":430},
{"team":"Alewife Arsonists","day":20,"diff":-300},{"team":"Alewife Arsonists","day":21,"diff":-20},{"team":"Alewife Arsonists","day":22,"diff":-350},{"team":"Alewife Arsonists","day":23,"diff":-380},{"team":"Alewife Arsonists","day":24,"diff":-530},{"team":"Alewife Arsonists","day":25,"diff":-330},{"team":"Alewife Arsonists","day":26,"diff":-60},{"team":"Alewife Arsonists","day":27,"diff":-360},{"team":"Alewife Arsonists","day":28,"diff":-160},{"team":"Alewife Arsonists","day":29,"diff":0},
{"team":"Alewife Arsonists","day":30,"diff":-460},{"team":"Alewife Arsonists","day":31,"diff":-500},{"team":"Alewife Arsonists","day":32,"diff":-560},{"team":"Alewife Arsonists","day":33,"diff":-560},{"team":"Alewife Arsonists","day":34,"diff":20},{"team":"Alewife Arsonists","day":35,"diff":0},{"team":"Alewife Arsonists","day":36,"diff":150},{"team":"Alewife Arsonists","day":37,"diff":-70},{"team":"Alewife Arsonists","day":38,"diff":-200},{"team":"Alewife Arsonists","day":39,"diff":-200},
{"team":"Alewife Arsonists","day":40,"diff":-300},{"team":"Alewife Arsonists","day":41,"diff":-420},{"team":"Alewife Arsonists","day":42,"diff":-300},{"team":"Alewife Arsonists","day":43,"diff":85},{"team":"Alewife Arsonists","day":44,"diff":85},{"team":"Alewife Arsonists","day":45,"diff":150},{"team":"Alewife Arsonists","day":46,"diff":480},{"team":"Alewife Arsonists","day":47,"diff":1120},{"team":"Alewife Arsonists","day":48,"diff":1490},{"team":"Alewife Arsonists","day":49,"diff":1170},
{"team":"Boylston Boogers","day":0,"diff":0},{"team":"Boylston Boogers","day":1,"diff":350},{"team":"Boylston Boogers","day":2,"diff":300},{"team":"Boylston Boogers","day":3,"diff":450},{"team":"Boylston Boogers","day":4,"diff":400},{"team":"Boylston Boogers","day":5,"diff":400},{"team":"Boylston Boogers","day":6,"diff":250},{"team":"Boylston Boogers","day":7,"diff":800},{"team":"Boylston Boogers","day":8,"diff":650},{"team":"Boylston Boogers","day":9,"diff":1000},
{"team":"Boylston Boogers","day":10,"diff":1650},{"team":"Boylston Boogers","day":11,"diff":1400},{"team":"Boylston Boogers","day":12,"diff":1480},{"team":"Boylston Boogers","day":13,"diff":1500},{"team":"Boylston Boogers","day":14,"diff":1700},{"team":"Boylston Boogers","day":15,"diff":2200},{"team":"Boylston Boogers","day":16,"diff":2220},{"team":"Boylston Boogers","day":17,"diff":2280},{"team":"Boylston Boogers","day":18,"diff":2600},{"team":"Boylston Boogers","day":19,"diff":2300},
{"team":"Boylston Boogers","day":20,"diff":2100},{"team":"Boylston Boogers","day":21,"diff":1800},{"team":"Boylston Boogers","day":22,"diff":2020},{"team":"Boylston Boogers","day":23,"diff":1740},{"team":"Boylston Boogers","day":24,"diff":1530},{"team":"Boylston Boogers","day":25,"diff":1720},{"team":"Boylston Boogers","day":26,"diff":1200},{"team":"Boylston Boogers","day":27,"diff":1320},{"team":"Boylston Boogers","day":28,"diff":1300},{"team":"Boylston Boogers","day":29,"diff":1160},
{"team":"Boylston Boogers","day":30,"diff":1810},{"team":"Boylston Boogers","day":31,"diff":1810},{"team":"Boylston Boogers","day":32,"diff":1920},{"team":"Boylston Boogers","day":33,"diff":2140},{"team":"Boylston Boogers","day":34,"diff":2570},{"team":"Boylston Boogers","day":35,"diff":2750},{"team":"Boylston Boogers","day":36,"diff":2490},{"team":"Boylston Boogers","day":37,"diff":2420},{"team":"Boylston Boogers","day":38,"diff":2530},{"team":"Boylston Boogers","day":39,"diff":2270},
{"team":"Boylston Boogers","day":40,"diff":2010},{"team":"Boylston Boogers","day":41,"diff":2140},{"team":"Boylston Boogers","day":42,"diff":2110},{"team":"Boylston Boogers","day":43,"diff":2050},{"team":"Boylston Boogers","day":44,"diff":2070},{"team":"Boylston Boogers","day":45,"diff":2090},{"team":"Boylston Boogers","day":46,"diff":2100},{"team":"Boylston Boogers","day":47,"diff":1680},{"team":"Boylston Boogers","day":48,"diff":2290},{"team":"Boylston Boogers","day":49,"diff":2330},
{"team":"Delaware Corporate Shells","day":0,"diff":0},{"team":"Delaware Corporate Shells","day":1,"diff":750},{"team":"Delaware Corporate Shells","day":2,"diff":870},{"team":"Delaware Corporate Shells","day":3,"diff":450},{"team":"Delaware Corporate Shells","day":4,"diff":100},{"team":"Delaware Corporate Shells","day":5,"diff":80},{"team":"Delaware Corporate Shells","day":6,"diff":-250},{"team":"Delaware Corporate Shells","day":7,"diff":-100},{"team":"Delaware Corporate Shells","day":8,"diff":-700},{"team":"Delaware Corporate Shells","day":9,"diff":100},
{"team":"Delaware Corporate Shells","day":10,"diff":0},{"team":"Delaware Corporate Shells","day":11,"diff":450},{"team":"Delaware Corporate Shells","day":12,"diff":750},{"team":"Delaware Corporate Shells","day":13,"diff":700},{"team":"Delaware Corporate Shells","day":14,"diff":550},{"team":"Delaware Corporate Shells","day":15,"diff":0},{"team":"Delaware Corporate Shells","day":16,"diff":0},{"team":"Delaware Corporate Shells","day":17,"diff":-50},{"team":"Delaware Corporate Shells","day":18,"diff":-100},{"team":"Delaware Corporate Shells","day":19,"diff":500},
{"team":"Delaware Corporate Shells","day":20,"diff":280},{"team":"Delaware Corporate Shells","day":21,"diff":300},{"team":"Delaware Corporate Shells","day":22,"diff":550},{"team":"Delaware Corporate Shells","day":23,"diff":580},{"team":"Delaware Corporate Shells","day":24,"diff":860},{"team":"Delaware Corporate Shells","day":25,"diff":740},{"team":"Delaware Corporate Shells","day":26,"diff":680},{"team":"Delaware Corporate Shells","day":27,"diff":830},{"team":"Delaware Corporate Shells","day":28,"diff":1190},{"team":"Delaware Corporate Shells","day":29,"diff":1070},
{"team":"Delaware Corporate Shells","day":30,"diff":1550},{"team":"Delaware Corporate Shells","day":31,"diff":1640},{"team":"Delaware Corporate Shells","day":32,"diff":1870},{"team":"Delaware Corporate Shells","day":33,"diff":1420},{"team":"Delaware Corporate Shells","day":34,"diff":830},{"team":"Delaware Corporate Shells","day":35,"diff":870},{"team":"Delaware Corporate Shells","day":36,"diff":1060},{"team":"Delaware Corporate Shells","day":37,"diff":1250},{"team":"Delaware Corporate Shells","day":38,"diff":1420},{"team":"Delaware Corporate Shells","day":39,"diff":1850},
{"team":"Delaware Corporate Shells","day":40,"diff":2110},{"team":"Delaware Corporate Shells","day":41,"diff":2110},{"team":"Delaware Corporate Shells","day":42,"diff":1940},{"team":"Delaware Corporate Shells","day":43,"diff":1460},{"team":"Delaware Corporate Shells","day":44,"diff":1720},{"team":"Delaware Corporate Shells","day":45,"diff":1840},{"team":"Delaware Corporate Shells","day":46,"diff":1590},{"team":"Delaware Corporate Shells","day":47,"diff":1940},{"team":"Delaware Corporate Shells","day":48,"diff":1350},{"team":"Delaware Corporate Shells","day":49,"diff":1380},
{"team":"Jersey OSHA Violations","day":0,"diff":0},{"team":"Jersey OSHA Violations","day":1,"diff":-100},{"team":"Jersey OSHA Violations","day":2,"diff":-250},{"team":"Jersey OSHA Violations","day":3,"diff":-230},{"team":"Jersey OSHA Violations","day":4,"diff":-300},{"team":"Jersey OSHA Violations","day":5,"diff":-320},{"team":"Jersey OSHA Violations","day":6,"diff":0},{"team":"Jersey OSHA Violations","day":7,"diff":-580},{"team":"Jersey OSHA Violations","day":8,"diff":-400},{"team":"Jersey OSHA Violations","day":9,"diff":-950},
{"team":"Jersey OSHA Violations","day":10,"diff":-950},{"team":"Jersey OSHA Violations","day":11,"diff":-700},{"team":"Jersey OSHA Violations","day":12,"diff":-750},{"team":"Jersey OSHA Violations","day":13,"diff":-480},{"team":"Jersey OSHA Violations","day":14,"diff":-820},{"team":"Jersey OSHA Violations","day":15,"diff":-800},{"team":"Jersey OSHA Violations","day":16,"diff":-820},{"team":"Jersey OSHA Violations","day":17,"diff":-830},{"team":"Jersey OSHA Violations","day":18,"diff":-850},{"team":"Jersey OSHA Violations","day":19,"diff":-500},
{"team":"Jersey OSHA Violations","day":20,"diff":0},{"team":"Jersey OSHA Violations","day":21,"diff":100},{"team":"Jersey OSHA Violations","day":22,"diff":500},{"team":"Jersey OSHA Violations","day":23,"diff":450},{"team":"Jersey OSHA Violations","day":24,"diff":380},{"team":"Jersey OSHA Violations","day":25,"diff":190},{"team":"Jersey OSHA Violations","day":26,"diff":40},{"team":"Jersey OSHA Violations","day":27,"diff":-70},{"team":"Jersey OSHA Violations","day":28,"diff":-180},{"team":"Jersey OSHA Violations","day":29,"diff":280},
{"team":"Jersey OSHA Violations","day":30,"diff":60},{"team":"Jersey OSHA Violations","day":31,"diff":60},{"team":"Jersey OSHA Violations","day":32,"diff":610},{"team":"Jersey OSHA Violations","day":33,"diff":670},{"team":"Jersey OSHA Violations","day":34,"diff":710},{"team":"Jersey OSHA Violations","day":35,"diff":610},{"team":"Jersey OSHA Violations","day":36,"diff":380},{"team":"Jersey OSHA Violations","day":37,"diff":1030},{"team":"Jersey OSHA Violations","day":38,"diff":510},{"team":"Jersey OSHA Violations","day":39,"diff":85},
{"team":"Jersey OSHA Violations","day":40,"diff":190},{"team":"Jersey OSHA Violations","day":41,"diff":320},{"team":"Jersey OSHA Violations","day":42,"diff":480},{"team":"Jersey OSHA Violations","day":43,"diff":970},{"team":"Jersey OSHA Violations","day":44,"diff":840},{"team":"Jersey OSHA Violations","day":45,"diff":840},{"team":"Jersey OSHA Violations","day":46,"diff":860},{"team":"Jersey OSHA Violations","day":47,"diff":1120},{"team":"Jersey OSHA Violations","day":48,"diff":1380},{"team":"Jersey OSHA Violations","day":49,"diff":1620},
{"team":"Sugar Grove Eavesdroppers","day":0,"diff":0},{"team":"Sugar Grove Eavesdroppers","day":1,"diff":300},{"team":"Sugar Grove Eavesdroppers","day":2,"diff":650},{"team":"Sugar Grove Eavesdroppers","day":3,"diff":450},{"team":"Sugar Grove Eavesdroppers","day":4,"diff":500},{"team":"Sugar Grove Eavesdroppers","day":5,"diff":1000},{"team":"Sugar Grove Eavesdroppers","day":6,"diff":900},{"team":"Sugar Grove Eavesdroppers","day":7,"diff":1100},{"team":"Sugar Grove Eavesdroppers","day":8,"diff":1350},{"team":"Sugar Grove Eavesdroppers","day":9,"diff":1230},
{"team":"Sugar Grove Eavesdroppers","day":10,"diff":1100},{"team":"Sugar Grove Eavesdroppers","day":11,"diff":650},{"team":"Sugar Grove Eavesdroppers","day":12,"diff":330},{"team":"Sugar Grove Eavesdroppers","day":13,"diff":400},{"team":"Sugar Grove Eavesdroppers","day":14,"diff":700},{"team":"Sugar Grove Eavesdroppers","day":15,"diff":700},{"team":"Sugar Grove Eavesdroppers","day":16,"diff":650},{"team":"Sugar Grove Eavesdroppers","day":17,"diff":650},{"team":"Sugar Grove Eavesdroppers","day":18,"diff":300},{"team":"Sugar Grove Eavesdroppers","day":19,"diff":350},
{"team":"Sugar Grove Eavesdroppers","day":20,"diff":600},{"team":"Sugar Grove Eavesdroppers","day":21,"diff":700},{"team":"Sugar Grove Eavesdroppers","day":22,"diff":500},{"team":"Sugar Grove Eavesdroppers","day":23,"diff":710},{"team":"Sugar Grove Eavesdroppers","day":24,"diff":420},{"team":"Sugar Grove Eavesdroppers","day":25,"diff":-50},{"team":"Sugar Grove Eavesdroppers","day":26,"diff":250},{"team":"Sugar Grove Eavesdroppers","day":27,"diff":160},{"team":"Sugar Grove Eavesdroppers","day":28,"diff":0},{"team":"Sugar Grove Eavesdroppers","day":29,"diff":85},
{"team":"Sugar Grove Eavesdroppers","day":30,"diff":0},{"team":"Sugar Grove Eavesdroppers","day":31,"diff":-70},{"team":"Sugar Grove Eavesdroppers","day":32,"diff":-410},{"team":"Sugar Grove Eavesdroppers","day":33,"diff":20},{"team":"Sugar Grove Eavesdroppers","day":34,"diff":-100},{"team":"Sugar Grove Eavesdroppers","day":35,"diff":85},{"team":"Sugar Grove Eavesdroppers","day":36,"diff":0},{"team":"Sugar Grove Eavesdroppers","day":37,"diff":-180},{"team":"Sugar Grove Eavesdroppers","day":38,"diff":-300},{"team":"Sugar Grove Eavesdroppers","day":39,"diff":-330},
{"team":"Sugar Grove Eavesdroppers","day":40,"diff":-690},{"team":"Sugar Grove Eavesdroppers","day":41,"diff":-820},{"team":"Sugar Grove Eavesdroppers","day":42,"diff":-70},{"team":"Sugar Grove Eavesdroppers","day":43,"diff":-460},{"team":"Sugar Grove Eavesdroppers","day":44,"diff":-650},{"team":"Sugar Grove Eavesdroppers","day":45,"diff":-940},{"team":"Sugar Grove Eavesdroppers","day":46,"diff":-890},{"team":"Sugar Grove Eavesdroppers","day":47,"diff":-1150},{"team":"Sugar Grove Eavesdroppers","day":48,"diff":-1470},{"team":"Sugar Grove Eavesdroppers","day":49,"diff":-1670}
]
},
"columns": 2,
"bounds": "flush",
"spacing": {"row": 41.7, "column": 49.6},
"resolve": {"scale": {"color": "independent", "x": "independent", "y": "independent"}, "legend": {"color": "independent"}},
"concat": [
{
 "width": 347, "height": 205,
 "title": "Cold Fire: Season 23 Score Differentials",
 "data": {"name": "cf"},
 "mark": {"type": "line", "clip": true, "strokeWidth": 1.4},
 "encoding": {
  "x": {"field": "day", "type": "quantitative", "scale": {"domain": [0, 49], "nice": false, "zero": false}, "axis": {"values": [1, 10, 20, 30, 40, 49], "title": "Day"}},
  "y": {"field": "diff", "type": "quantitative", "scale": {"domain": [-4000, 4000], "nice": false}, "axis": {"values": [-4000, -3000, -2000, -1000, 0, 1000, 2000, 3000, 4000], "format": "d", "title": "Point Differential"}},
  "color": {"field": "team", "type": "nominal", "scale": {"domain": ["Baltimore Texas II", "Elko Astronauts", "Long Beach Flightless Birds", "Salt Lake Turbulence", "Seattle Sneakers"], "range": ["#3b80b6", "#8ad2c8", "#dcb274", "#18be48", "#d3611e"]}, "legend": {"orient": "top-left", "title": null}}
 }
},
{
 "width": 347, "height": 205,
 "title": "Cold Water: Season 23 Score Differentials",
 "data": {"name": "cw"},
 "mark": {"type": "line", "clip": true, "strokeWidth": 1.4},
 "encoding": {
  "x": {"field": "day", "type": "quantitative", "scale": {"domain": [0, 49], "nice": false, "zero": false}, "axis": {"values": [1, 10, 20, 30, 40, 49], "title": "Day"}},
  "y": {"field": "diff", "type": "quantitative", "scale": {"domain": [-4000, 4000], "nice": false}, "axis": {"values": [-4000, -3000, -2000, -1000, 0, 1000, 2000, 3000, 4000], "format": "d", "title": "Point Differential"}},
  "color": {"field": "team", "type": "nominal", "scale": {"domain": ["Albuquerque Solarpunks", "Phoenix Freshrolls", "Sacramento Boot Lickers", "San Diego Balloon Animals", "Tucson Butchers"], "range": ["#d4239a", "#a9a9a9", "#f0ab2c", "#d27f10", "#c0080e"]}, "legend": {"orient": "bottom-left", "title": null}}
 }
},
{
 "width": 347, "height": 205,
 "title": "Hot Fire: Season 23 Score Differentials",
 "data": {"name": "hf"},
 "mark": {"type": "line", "clip": true, "strokeWidth": 1.4},
 "encoding": {
  "x": {"field": "day", "type": "quantitative", "scale": {"domain": [0, 49], "nice": false, "zero": false}, "axis": {"values": [1, 10, 20, 30, 40, 49], "title": "Day"}},
  "y": {"field": "diff", "type": "quantitative", "scale": {"domain": [-4000, 4000], "nice": false}, "axis": {"values": [-4000, -3000, -2000, -1000, 0, 1000, 2000, 3000, 4000], "format": "d", "title": "Point Differential"}},
  "color": {"field": "team", "type": "nominal", "scale": {"domain": ["Detroit Grape Chews", "Fargo Flea Flickers", "Milwaukee Flamingos", "San Francisco Boat Shoes", "Vegas Vampires"], "range": ["#9c5fb5", "#c8d400", "#e060b8", "#e8dbc8", "#9d7539"]}, "legend": {"orient": "top-left", "title": null}}
 }
},
{
 "width": 347, "height": 205,
 "title": "Hot Water: Season 23 Score Differentials",
 "data": {"name": "hw"},
 "mark": {"type": "line", "clip": true, "strokeWidth": 1.4},
 "encoding": {
  "x": {"field": "day", "type": "quantitative", "scale": {"domain": [0, 49], "nice": false, "zero": false}, "axis": {"values": [1, 10, 20, 30, 40, 49], "title": "Day"}},
  "y": {"field": "diff", "type": "quantitative", "scale": {"domain": [-4000, 4000], "nice": false}, "axis": {"values": [-4000, -3000, -2000, -1000, 0, 1000, 2000, 3000, 4000], "format": "d", "title": "Point Differential"}},
  "color": {"field": "team", "type": "nominal", "scale": {"domain": ["Alewife Arsonists", "Boylston Boogers", "Delaware Corporate Shells", "Jersey OSHA Violations", "Sugar Grove Eavesdroppers"], "range": ["#e31a1c", "#6b7a1f", "#d895d8", "#3d8b72", "#f2e640"]}, "legend": {"orient": "bottom-left", "title": null}}
 }
}
]
}
